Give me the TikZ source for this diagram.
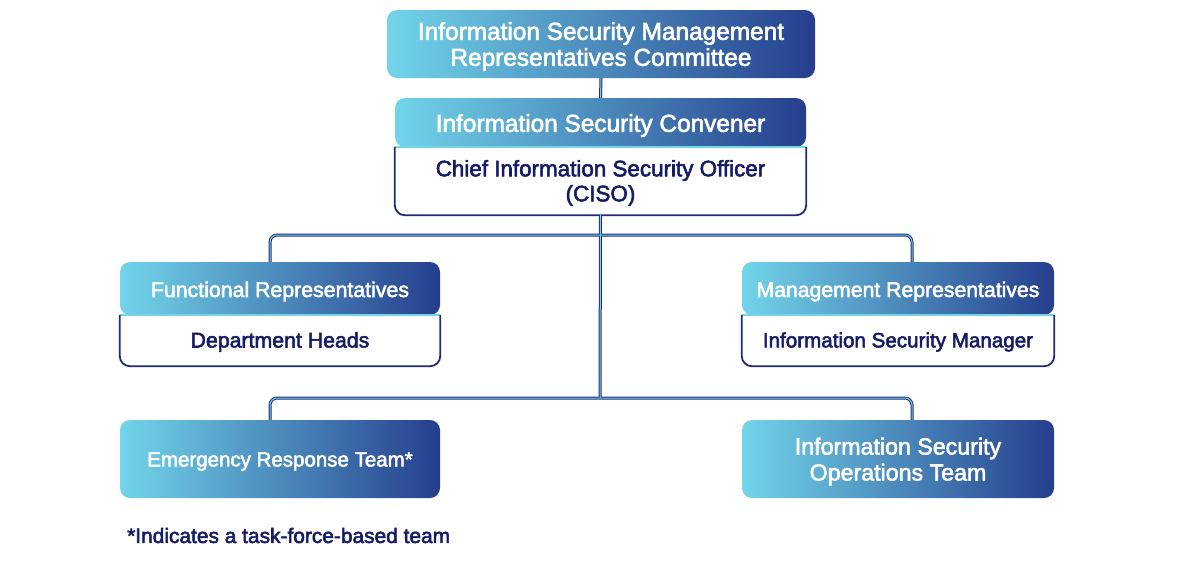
\documentclass[tikz,border=0pt]{standalone}
\usepackage{fontspec}
\setmainfont{Liberation Sans}[FakeBold=2.5]
\usetikzlibrary{calc}
\definecolor{cL}{HTML}{72D5EA}
\definecolor{cR}{HTML}{253E8D}
\definecolor{navyT}{HTML}{161B66}
\definecolor{navyB}{HTML}{1E2C78}
\tikzset{
  gbox/.style={rounded corners=10pt, left color=cL, right color=cR, inner sep=0pt},
  splitbox/.style={rounded corners=10pt, fill=white, inner sep=0pt,
    path picture={\shade[left color=cL,right color=cR]
      (path picture bounding box.north west) rectangle ([yshift=-#1]path picture bounding box.north east);
      \draw[cL, line width=2pt] ([yshift=-#1]path picture bounding box.north west) -- ([yshift=-#1]path picture bounding box.north east);}},
  bodyline/.style={draw=navyB, line width=1.8pt},
  head/.style={text=white, align=center},
  body/.style={text=navyT, align=center},
  connD/.style={draw=navyB, line width=3pt},
  connL/.style={draw=cL, line width=1pt, shift={(0.9pt,0.9pt)}},
}
\begin{document}
\begin{tikzpicture}[x=1pt,y=-1pt]
\useasboundingbox (0,0) rectangle (1200,571);

% boxes
\node[gbox, minimum width=428pt, minimum height=68pt] (top) at (601,44) {};
\node[head, font=\fontsize{24.4}{26}\selectfont] (toph) at (601,46.5)
  {Information Security Management\\Representatives Committee};

\node[splitbox=49pt, minimum width=411pt, minimum height=117pt] (conv) at (600.5,156.5) {};
\node[head, font=\fontsize{24.4}{26}\selectfont] (convh) at (600.5,125.5) {Information Security Convener};
\node[body, font=\fontsize{22.4}{25}\selectfont] (convb) at (600.5,183) {Chief Information Security Officer\\(CISO)};

\node[splitbox=53pt, minimum width=320pt, minimum height=104pt] (func) at (280,314) {};
\node[head, font=\fontsize{21.3}{26}\selectfont] (funch) at (280,291.5) {Functional Representatives};
\node[body, font=\fontsize{21.3}{26}\selectfont] (funcb) at (280,342) {Department Heads};

\node[splitbox=53pt, minimum width=312pt, minimum height=104pt] (mgmt) at (898,314) {};
\node[head, font=\fontsize{21.2}{26}\selectfont] (mgmth) at (898,291.5) {Management Representatives};
\node[body, font=\fontsize{20.6}{26}\selectfont] (mgmtb) at (898,342) {Information Security Manager};

\node[gbox, minimum width=320pt, minimum height=78pt] (eme) at (280,459) {};
\node[head, font=\fontsize{20.5}{26}\selectfont] (emeh) at (280,461.5) {Emergency Response Team*};
\node[gbox, minimum width=312pt, minimum height=78pt] (ops) at (898,459) {};
\node[head, font=\fontsize{23.2}{26}\selectfont] (opsh) at (898,461.5) {Information Security\\Operations Team};

% body outlines
\draw[bodyline, rounded corners=10pt] ([yshift=-49pt]conv.north west) -- (conv.south west) -- (conv.south east) -- ([yshift=-49pt]conv.north east);
\draw[bodyline, rounded corners=10pt] ([yshift=-53pt]func.north west) -- (func.south west) -- (func.south east) -- ([yshift=-53pt]func.north east);
\draw[bodyline, rounded corners=10pt] ([yshift=-53pt]mgmt.north west) -- (mgmt.south west) -- (mgmt.south east) -- ([yshift=-53pt]mgmt.north east);

% footnote
\node[text=navyT, anchor=west, font=\fontsize{20.9}{24}\selectfont, inner sep=0pt] (note) at (127,535.5)
  {*Indicates a task-force-based team};

% connectors
\coordinate (j1) at (600,235);
\coordinate (j2) at (600,398);
\foreach \s in {connD,connL}{
  \draw[\s] (top.south) -- (conv.north);
  \draw[\s] (conv.south) -- (j2);
  \draw[\s, rounded corners=7pt] ([xshift=-10pt]func.north) |- (j1) -| ([xshift=14pt]mgmt.north);
  \draw[\s, rounded corners=7pt] ([xshift=-10pt]eme.north) |- (j2) -| ([xshift=14pt]ops.north);
}
\end{tikzpicture}
\end{document}
